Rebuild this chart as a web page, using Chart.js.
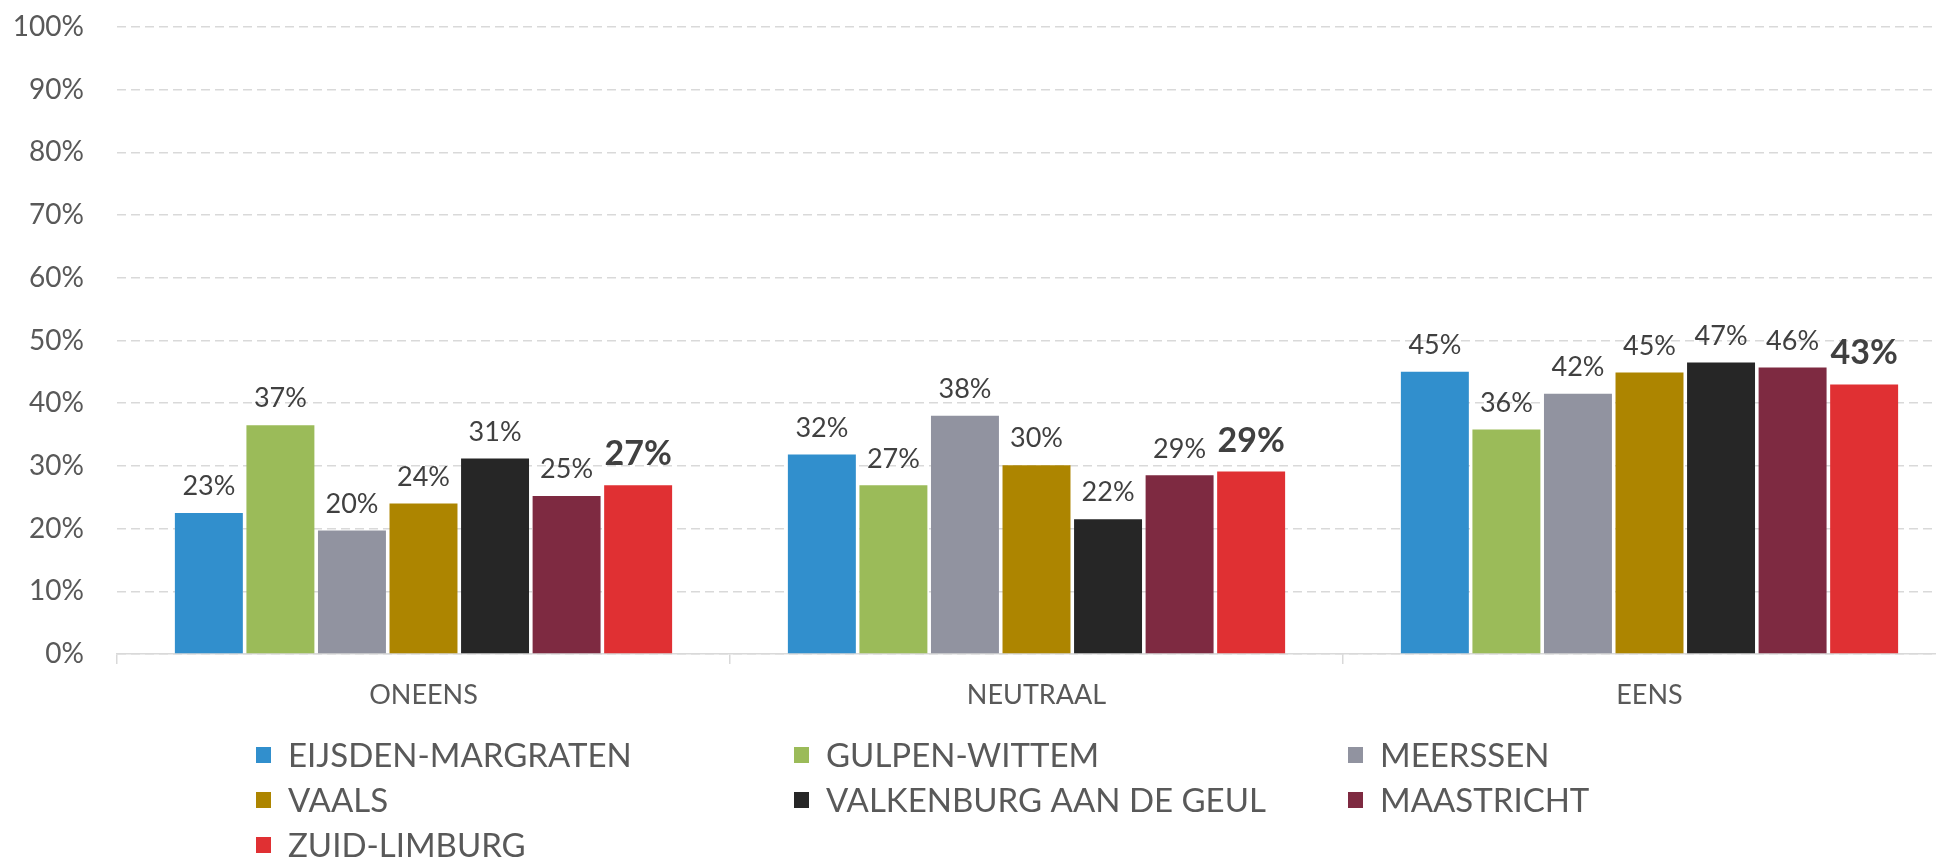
<!DOCTYPE html>
<html>
<head>
<meta charset="utf-8">
<script src="https://cdn.jsdelivr.net/npm/chart.js@4/dist/chart.umd.min.js"></script>
<style>
  html, body { margin: 0; padding: 0; background: #fff; overflow: hidden; }
  #chart { display: block; }
</style>
</head>
<body>
<canvas id="chart" width="1956" height="857"></canvas>
<script>
// categories and series
const categories = ['ONEENS', 'NEUTRAAL', 'EENS'];
const seriesNames = ['EIJSDEN-MARGRATEN', 'GULPEN-WITTEM', 'MEERSSEN', 'VAALS', 'VALKENBURG AAN DE GEUL', 'MAASTRICHT', 'ZUID-LIMBURG'];
const seriesColors = ['#318FCD', '#9BBB59', '#9193A0', '#AD8500', '#262626', '#7E2A41', '#E03033'];

const eijsdenMargraten = [22.5, 31.8, 45.0];
const gulpenWittem = [36.5, 26.9, 35.8];
const meerssen = [19.7, 38.0, 41.5];
const vaals = [24.0, 30.1, 44.9];
const valkenburg = [31.2, 21.5, 46.5];
const maastricht = [25.2, 28.5, 45.7];
const zuidLimburg = [26.9, 29.1, 43.0];

const seriesValues = [eijsdenMargraten, gulpenWittem, meerssen, vaals, valkenburg, maastricht, zuidLimburg];

const yTicks = [0, 10, 20, 30, 40, 50, 60, 70, 80, 90, 100];

const FONT = "Lato, 'Open Sans', sans-serif";

// value labels above the bars, last series bold
const barLabels = {
    id: 'barLabels',
    afterDatasetsDraw(chart) {
        const ctx = chart.ctx;
        ctx.save();
        ctx.textAlign = 'center';
        ctx.textBaseline = 'bottom';
        chart.data.datasets.forEach((ds, i) => {
            const meta = chart.getDatasetMeta(i);
            const last = i === chart.data.datasets.length - 1;
            ctx.font = last ? "bold 34px " + FONT : "27px " + FONT;
            ctx.fillStyle = '#404040';
            meta.data.forEach((bar, j) => {
                ctx.fillText(Math.round(ds.data[j]) + '%', bar.x, bar.y - (last ? 14 : 13));
            });
        });
        ctx.restore();
    }
};

// legend in three columns
const gridLegend = {
    id: 'gridLegend',
    afterDraw(chart) {
        const ctx = chart.ctx;
        const cols = [256, 794, 1348];
        const rows = [755, 800, 845];
        ctx.save();
        ctx.font = "33px " + FONT;
        ctx.textBaseline = 'middle';
        ctx.textAlign = 'left';
        chart.data.datasets.forEach((ds, i) => {
            const x = cols[i % 3];
            const y = rows[Math.floor(i / 3)];
            ctx.fillStyle = ds.backgroundColor;
            ctx.fillRect(x, y - 8, 15, 16);
            ctx.fillStyle = '#595959';
            ctx.fillText(ds.label, x + 32, y + 1);
        });
        ctx.restore();
    }
};

new Chart(document.querySelector('#chart'), {
    type: 'bar',
    data: {
        labels: categories,
        datasets: seriesNames.map((name, i) => ({
            label: name,
            data: seriesValues[i],
            backgroundColor: seriesColors[i],
            borderWidth: 0,
            barPercentage: 0.95,
            categoryPercentage: 0.817
        }))
    },
    options: {
        responsive: false,
        animation: false,
        layout: { padding: { top: 27, left: 0, right: 0, bottom: 143 } },
        plugins: {
            legend: { display: false },
            tooltip: { enabled: false }
        },
        scales: {
            x: {
                grid: { drawOnChartArea: false, drawTicks: true, tickLength: 10, color: '#d9d9d9', lineWidth: 1.5, offset: true },
                border: { display: true, color: '#d9d9d9', width: 1.5 },
                ticks: { color: '#595959', font: { family: FONT, size: 27 }, padding: 15 },
                afterFit(scale) { scale.height = 60; }
            },
            y: {
                min: 0,
                max: 100,
                afterBuildTicks(scale) { scale.ticks = yTicks.map(v => ({ value: v })); },
                grid: { color: '#d9d9d9', lineWidth: 1.5, drawTicks: true, tickLength: 31, tickColor: 'rgba(0,0,0,0)' },
                border: { display: false, dash: [9, 5] },
                ticks: { color: '#595959', font: { family: FONT, size: 28 }, padding: 2, callback: v => v + '%' },
                afterFit(scale) { scale.width = 117; }
            }
        }
    },
    plugins: [barLabels, gridLegend]
});
</script>
</body>
</html>
